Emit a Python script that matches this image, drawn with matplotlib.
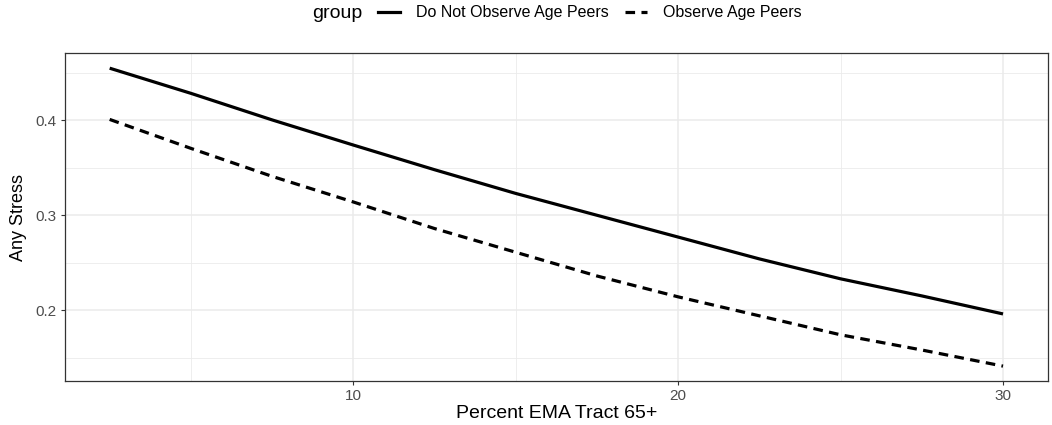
import numpy as np
import matplotlib
matplotlib.use("Agg")
import matplotlib.pyplot as plt
from matplotlib.lines import Line2D

plt.rcParams['font.family'] = ['Liberation Sans', 'DejaVu Sans']

# values
pct_tract = [2.5, 5, 7.5, 10, 12.5, 15, 17.5, 20, 22.5, 25, 27.5, 30]
no_peers = [0.455, 0.4285, 0.4005, 0.374, 0.348, 0.323, 0.300, 0.277,
            0.254, 0.233, 0.215, 0.196]
peers = [0.401, 0.3705, 0.341, 0.314, 0.286, 0.261, 0.236, 0.214,
         0.194, 0.174, 0.158, 0.141]
group_labels = ['Do Not Observe Age Peers', 'Observe Age Peers']
x_ticks = [10, 20, 30]
y_ticks = [0.2, 0.3, 0.4]

fig = plt.figure(figsize=(10.52, 4.25), dpi=100)
ax = fig.add_axes([0.0618, 0.1035, 0.9959 - 0.0618, 0.8746 - 0.1035])

ax.plot(pct_tract, no_peers, color='black', lw=2.3, solid_capstyle='butt')
ln, = ax.plot(pct_tract, peers, color='black', lw=2.3, dash_capstyle='butt')
ln.set_dashes([3, 2])

# ggplot-style expansion of 5%
xr = max(pct_tract) - min(pct_tract)
ax.set_xlim(min(pct_tract) - 0.05 * xr, max(pct_tract) + 0.05 * xr)
ymin = min(min(no_peers), min(peers))
ymax = max(max(no_peers), max(peers))
yr = ymax - ymin
ax.set_ylim(ymin - 0.05 * yr, ymax + 0.05 * yr)

ax.set_xticks(x_ticks)
ax.set_xticks([5, 15, 25], minor=True)
ax.set_yticks(y_ticks)
ax.set_yticks([0.15, 0.25, 0.35, 0.45], minor=True)
ax.set_yticklabels([f'{v:.1f}' for v in y_ticks])

ax.grid(which='major', color='#EBEBEB', lw=1.1)
ax.grid(which='minor', color='#EBEBEB', lw=0.6)
ax.set_axisbelow(True)

ax.tick_params(which='major', length=3, width=0.8, color='#333333',
               labelsize=11, labelcolor='#4D4D4D', pad=3)
ax.tick_params(which='minor', length=0)
for s in ax.spines.values():
    s.set_color('#333333')
    s.set_linewidth(0.9)

ax.set_xlabel('Percent EMA Tract 65+', fontsize=14, labelpad=1)
ax.set_ylabel('Any Stress', fontsize=13, labelpad=6)

# legend on top, title on the left like ggplot
fig.text(312 / 1052, 1 - 13 / 425, 'group', fontsize=14, va='center', ha='left')
handles = [Line2D([], [], color='black', lw=2.3),
           Line2D([], [], color='black', lw=2.3, dashes=[3, 2])]
fig.legend(handles, group_labels, loc='center left', ncol=2,
           bbox_to_anchor=(378 / 1052, 1 - 13 / 425), frameon=False,
           fontsize=11.5, handlelength=1.4, handletextpad=1.0, columnspacing=1.0,
           borderaxespad=0, borderpad=0)

fig.savefig('out.png', dpi=100)
